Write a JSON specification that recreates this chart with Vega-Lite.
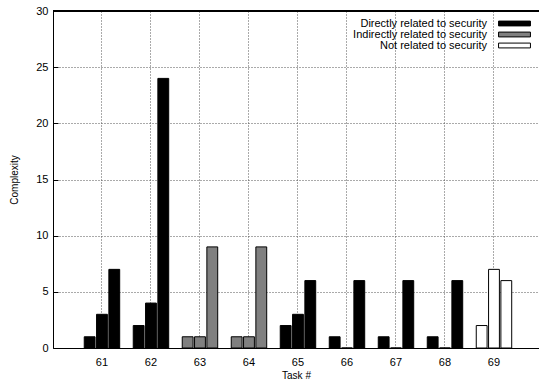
{
  "$schema": "https://vega.github.io/schema/vega-lite/v6.json",
  "width": 486,
  "height": 337,
  "autosize": "none",
  "padding": {"left": 53, "top": 11, "right": 0, "bottom": 35},
  "background": "white",
  "config": {
    "font": "Liberation Sans",
    "view": {"stroke": null},
    "axis": {
      "labelFont": "Liberation Sans",
      "titleFont": "Liberation Sans",
      "labelColor": "black",
      "titleColor": "black",
      "domainColor": "black",
      "tickColor": "black",
      "labelFontSize": 11,
      "titleFontSize": 10,
      "titleFontWeight": "normal",
      "gridColor": "#555555",
      "gridDash": [1, 2],
      "gridWidth": 1
    }
  },
  "data": {
    "values": [
      {"task": "61", "slot": 1, "value": 1, "category": "Directly related to security"},
      {"task": "61", "slot": 2, "value": 3, "category": "Directly related to security"},
      {"task": "61", "slot": 3, "value": 7, "category": "Directly related to security"},
      {"task": "62", "slot": 1, "value": 2, "category": "Directly related to security"},
      {"task": "62", "slot": 2, "value": 4, "category": "Directly related to security"},
      {"task": "62", "slot": 3, "value": 24, "category": "Directly related to security"},
      {"task": "63", "slot": 1, "value": 1, "category": "Indirectly related to security"},
      {"task": "63", "slot": 2, "value": 1, "category": "Indirectly related to security"},
      {"task": "63", "slot": 3, "value": 9, "category": "Indirectly related to security"},
      {"task": "64", "slot": 1, "value": 1, "category": "Indirectly related to security"},
      {"task": "64", "slot": 2, "value": 1, "category": "Indirectly related to security"},
      {"task": "64", "slot": 3, "value": 9, "category": "Indirectly related to security"},
      {"task": "65", "slot": 1, "value": 2, "category": "Directly related to security"},
      {"task": "65", "slot": 2, "value": 3, "category": "Directly related to security"},
      {"task": "65", "slot": 3, "value": 6, "category": "Directly related to security"},
      {"task": "66", "slot": 1, "value": 1, "category": "Directly related to security"},
      {"task": "66", "slot": 2, "value": 0, "category": "Directly related to security"},
      {"task": "66", "slot": 3, "value": 6, "category": "Directly related to security"},
      {"task": "67", "slot": 1, "value": 1, "category": "Directly related to security"},
      {"task": "67", "slot": 2, "value": 0, "category": "Directly related to security"},
      {"task": "67", "slot": 3, "value": 6, "category": "Directly related to security"},
      {"task": "68", "slot": 1, "value": 1, "category": "Directly related to security"},
      {"task": "68", "slot": 2, "value": 0, "category": "Directly related to security"},
      {"task": "68", "slot": 3, "value": 6, "category": "Directly related to security"},
      {"task": "69", "slot": 1, "value": 2, "category": "Not related to security"},
      {"task": "69", "slot": 2, "value": 7, "category": "Not related to security"},
      {"task": "69", "slot": 3, "value": 6, "category": "Not related to security"}
    ]
  },
  "layer": [
    {
      "mark": {"type": "bar", "stroke": "black", "strokeWidth": 1},
      "encoding": {
        "x": {
          "field": "task",
          "type": "ordinal",
          "scale": {"paddingInner": 0, "paddingOuter": 0.459, "align": 0.544},
          "axis": {
            "title": "Task #",
            "labelAngle": 0,
            "grid": true,
            "bandPosition": 0.5,
            "ticks": false,
            "labelPadding": 8,
            "titlePadding": 3
          }
        },
        "xOffset": {
          "field": "slot",
          "type": "ordinal",
          "scale": {"paddingInner": 0.12, "paddingOuter": 0.55}
        },
        "y": {
          "field": "value",
          "type": "quantitative",
          "scale": {"domain": [0, 30], "nice": false},
          "axis": {
            "title": "Complexity",
            "values": [0, 5, 10, 15, 20, 25, 30],
            "grid": true,
            "tickSize": -5,
            "labelPadding": 10,
            "titlePadding": 16
          }
        },
        "fill": {
          "field": "category",
          "type": "nominal",
          "scale": {
            "domain": ["Directly related to security", "Indirectly related to security", "Not related to security"],
            "range": ["#000000", "#808080", "#ffffff"]
          },
          "legend": {
            "orient": "none",
            "legendX": 455.5,
            "legendY": 6.5,
            "title": null,
            "symbolType": "M-2.9,-0.44H2.9V0.44H-2.9Z",
            "symbolSize": 121,
            "symbolStrokeColor": "black",
            "symbolStrokeWidth": 1,
            "symbolOpacity": 1,
            "labelAlign": "right",
            "labelOffset": -33.5,
            "labelFontSize": 11,
            "labelFont": "Liberation Sans",
            "labelColor": "black",
            "rowPadding": -1,
            "padding": 0
          }
        }
      }
    },
    {
      "mark": {"type": "rule", "color": "black", "strokeWidth": 1},
      "encoding": {"y": {"datum": 30}}
    }
  ]
}
